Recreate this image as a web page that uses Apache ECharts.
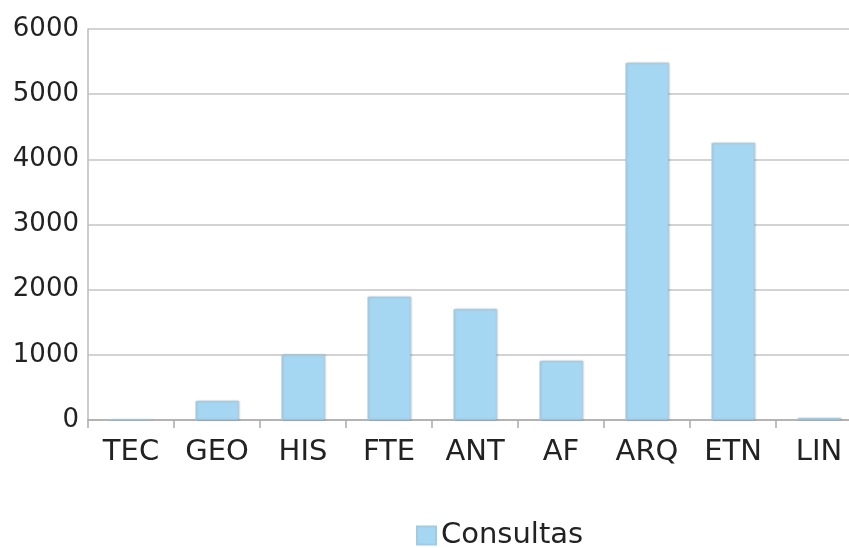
<!DOCTYPE html>
<html>
<head>
<meta charset="utf-8">
<script src="https://cdn.jsdelivr.net/npm/echarts@6/dist/echarts.min.js"></script>
<style>
  html, body { margin: 0; padding: 0; background: #fff; overflow: hidden; }
  /* the original is cropped on the right, so the chart is a bit wider than the window */
  #chart { width: 870px; height: 548px; }
</style>
</head>
<body>
<div id="chart"></div>
<script>
// categorias y valores
const categories = ["TEC", "GEO", "HIS", "FTE", "ANT", "AF", "ARQ", "ETN", "LIN"];
const consultas = [12, 290, 1000, 1890, 1700, 905, 5480, 4250, 30];
const seriesName = "Consultas";

const myChart = echarts.init(document.getElementById("chart"));
const option = {
  animation: false,
  textStyle: { fontFamily: "DejaVu Sans" },
  legend: {
    top: 516,
    left: 411,
    icon: "rect",
    itemWidth: 19,
    itemHeight: 18,
    itemGap: 4,
    textStyle: { fontSize: 29, color: "#222" },
    data: [seriesName],
  },
  grid: {
    left: 88,
    top: 29,
    right: 8,
    height: 391,
  },
  xAxis: {
    type: "category",
    data: categories,
    boundaryGap: true,
    axisLine: { lineStyle: { color: "#aaa", width: 1.5 } },
    axisTick: { show: true, length: 8, lineStyle: { color: "#aaa", width: 1.5 } },
    axisLabel: { fontSize: 29, color: "#222", margin: 18 },
  },
  yAxis: {
    type: "value",
    min: 0,
    max: 6000,
    interval: 1000,
    axisLine: { show: true, lineStyle: { color: "#bbb", width: 1.5 } },
    axisTick: { show: false },
    splitLine: { lineStyle: { color: "#c4c4c4", width: 1.5 } },
    axisLabel: { fontSize: 26, color: "#222", margin: 9, formatter: (v) => String(v) },
  },
  series: [
    {
      name: seriesName,
      type: "bar",
      data: consultas,
      barWidth: 43,
      itemStyle: {
        color: "#a6d7f2",
        borderColor: "#9fcbe4",
        borderWidth: 0.5,
        shadowColor: "rgba(0,0,0,0.25)",
        shadowBlur: 2,
        shadowOffsetX: 1,
      },
    },
  ],
};
myChart.setOption(option);
</script>
</body>
</html>
